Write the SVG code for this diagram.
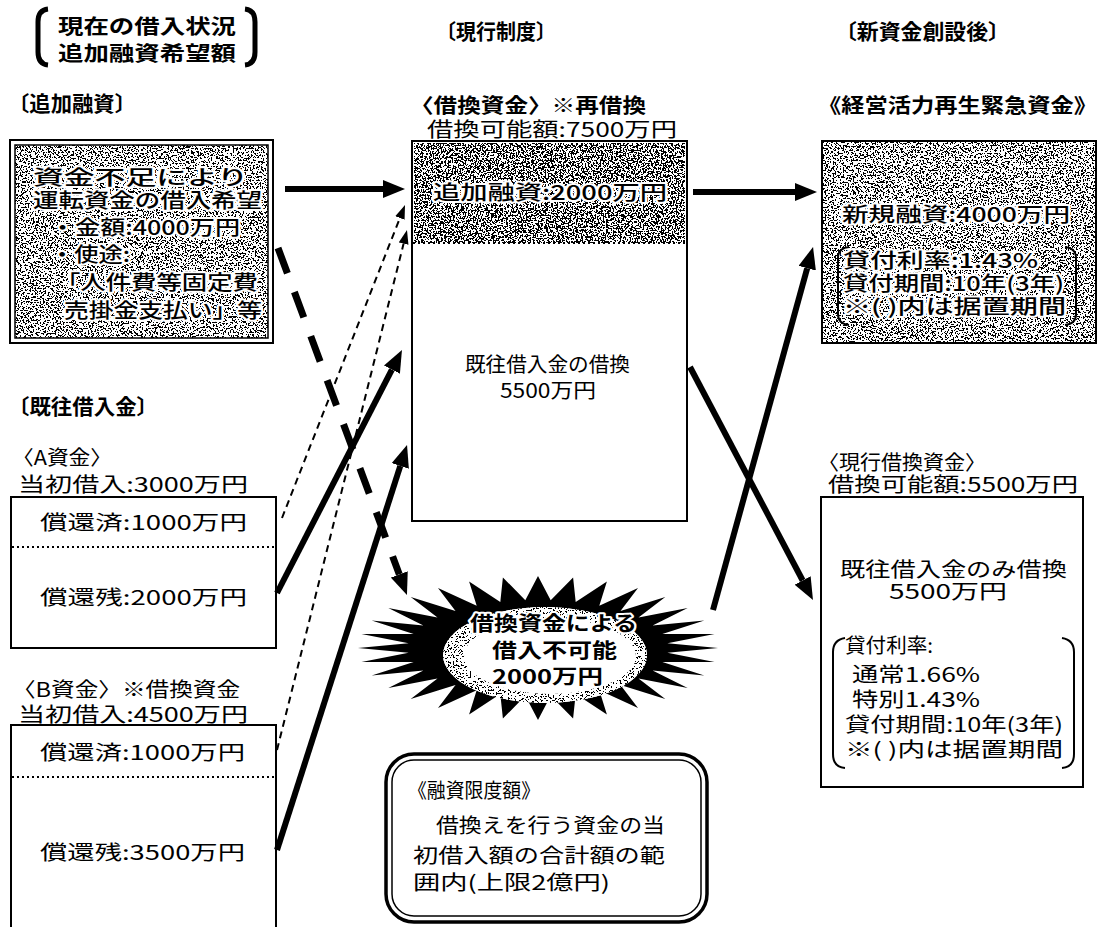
<svg xmlns="http://www.w3.org/2000/svg" width="1101" height="927" viewBox="0 0 1101 927">
<style>
text{font-family:"Noto Sans CJK JP","Noto Sans",sans-serif;fill:#000;font-size:20px}
.b{font-weight:700}
.h{font-size:21px;font-weight:700}
.halo{paint-order:stroke;stroke:#fff;stroke-width:4px;stroke-linejoin:round;font-weight:500}
.box{fill:#fff;stroke:#000;stroke-width:2}
.nb{fill:none;stroke:#000;stroke-width:2}
.dot{stroke:#000;stroke-width:2;stroke-dasharray:2 3;fill:none}
.thick{stroke:#000;stroke-width:6;fill:none}
.tdash{stroke:#000;stroke-width:7;fill:none;stroke-dasharray:27 20}
.thin{stroke:#000;stroke-width:2;fill:none;stroke-dasharray:7 5}
</style>
<defs>
<filter id="sp40" x="0" y="0" width="1" height="1" color-interpolation-filters="sRGB">
<feTurbulence type="fractalNoise" baseFrequency="0.6" numOctaves="2" seed="7" result="n"/>
<feColorMatrix in="n" type="matrix" values="1 0 0 0 0 1 0 0 0 0 1 0 0 0 0 0 0 0 0 1" result="g"/>
<feComponentTransfer in="g" result="bw">
<feFuncR type="discrete" tableValues="0 0 0 0 0 0 0 0 0 1 1 1 1 1 1 1 1 1 1 1"/>
<feFuncG type="discrete" tableValues="0 0 0 0 0 0 0 0 0 1 1 1 1 1 1 1 1 1 1 1"/>
<feFuncB type="discrete" tableValues="0 0 0 0 0 0 0 0 0 1 1 1 1 1 1 1 1 1 1 1"/>
</feComponentTransfer>
<feComposite in="bw" in2="SourceGraphic" operator="in"/>
</filter>
<filter id="sp55" x="0" y="0" width="1" height="1" color-interpolation-filters="sRGB">
<feTurbulence type="fractalNoise" baseFrequency="0.6" numOctaves="2" seed="3" result="n"/>
<feColorMatrix in="n" type="matrix" values="1 0 0 0 0 1 0 0 0 0 1 0 0 0 0 0 0 0 0 1" result="g"/>
<feComponentTransfer in="g" result="bw">
<feFuncR type="discrete" tableValues="0 0 0 0 0 0 0 0 0 0 1 1 1 1 1 1 1 1 1 1"/>
<feFuncG type="discrete" tableValues="0 0 0 0 0 0 0 0 0 0 1 1 1 1 1 1 1 1 1 1"/>
<feFuncB type="discrete" tableValues="0 0 0 0 0 0 0 0 0 0 1 1 1 1 1 1 1 1 1 1"/>
</feComponentTransfer>
<feComposite in="bw" in2="SourceGraphic" operator="in"/>
</filter>
<filter id="sp15" x="0" y="0" width="1" height="1" color-interpolation-filters="sRGB">
<feTurbulence type="fractalNoise" baseFrequency="0.6" numOctaves="2" seed="11" result="n"/>
<feColorMatrix in="n" type="matrix" values="1 0 0 0 0 1 0 0 0 0 1 0 0 0 0 0 0 0 0 1" result="g"/>
<feComponentTransfer in="g" result="bw">
<feFuncR type="discrete" tableValues="0 0 0 0 0 0 0 0 1 1 1 1 1 1 1 1 1 1 1 1"/>
<feFuncG type="discrete" tableValues="0 0 0 0 0 0 0 0 1 1 1 1 1 1 1 1 1 1 1 1"/>
<feFuncB type="discrete" tableValues="0 0 0 0 0 0 0 0 1 1 1 1 1 1 1 1 1 1 1 1"/>
</feComponentTransfer>
<feComposite in="bw" in2="SourceGraphic" operator="in"/>
</filter>
<marker id="ah" viewBox="0 0 22 18" refX="0" refY="9" markerWidth="22" markerHeight="18" markerUnits="userSpaceOnUse" orient="auto">
<path d="M0,0 L22,9 L0,18 z" fill="#000"/>
</marker>
<marker id="ahs" viewBox="0 0 14 10" refX="0" refY="5" markerWidth="14" markerHeight="10" markerUnits="userSpaceOnUse" orient="auto">
<path d="M0,0 L14,5 L0,10 z" fill="#000"/>
</marker>
</defs>
<rect width="1101" height="927" fill="#fff"/>

<g id="headings">
<path d="M48,9 Q38,10 38,22 V52 Q38,64 48,65" fill="none" stroke="#000" stroke-width="5"/>
<path d="M245,9 Q255,10 255,22 V52 Q255,64 245,65" fill="none" stroke="#000" stroke-width="5"/>
<text x="58" y="34" class="b" font-size="23" textLength="178" lengthAdjust="spacingAndGlyphs">現在の借入状況</text>
<text x="58" y="61" class="b" font-size="23" textLength="178" lengthAdjust="spacingAndGlyphs">追加融資希望額</text>
<text x="436" y="39" class="h" textLength="120" lengthAdjust="spacingAndGlyphs">〔現行制度〕</text>
<text x="835" y="39" class="h" textLength="175" lengthAdjust="spacingAndGlyphs">〔新資金創設後〕</text>
<text x="8" y="111" class="h" textLength="128" lengthAdjust="spacingAndGlyphs">〔追加融資〕</text>
<text x="8" y="414" class="h" textLength="150" lengthAdjust="spacingAndGlyphs">〔既往借入金〕</text>
</g>

<g id="add-loan">
<rect x="10" y="140" width="263" height="203" class="nb"/>
<rect x="15" y="145" width="253" height="193" fill="#000" filter="url(#sp40)"/>
<rect x="15" y="145" width="253" height="193" fill="none" stroke="#000" stroke-width="1.5"/>
<text class="halo" x="33" y="185" textLength="215" lengthAdjust="spacingAndGlyphs">資金不足により</text>
<text class="halo" x="33" y="208" textLength="229" lengthAdjust="spacingAndGlyphs">運転資金の借入希望</text>
<text class="halo" x="50" y="235" textLength="190" lengthAdjust="spacingAndGlyphs">・金額:4000万円</text>
<text class="halo" x="50" y="262" textLength="80" lengthAdjust="spacingAndGlyphs">・使途:</text>
<text class="halo" x="55" y="290" textLength="203" lengthAdjust="spacingAndGlyphs">「人件費等固定費</text>
<text class="halo" x="64" y="318" textLength="198" lengthAdjust="spacingAndGlyphs">売掛金支払い」等</text>
</g>

<g id="fund-a">
<text x="12" y="465" textLength="100" lengthAdjust="spacingAndGlyphs">〈A資金〉</text>
<text x="18" y="492" textLength="230" lengthAdjust="spacingAndGlyphs">当初借入:3000万円</text>
<rect x="11" y="497" width="265" height="151" class="box"/>
<line x1="12" y1="547" x2="275" y2="547" class="dot"/>
<text x="40" y="530" textLength="207" lengthAdjust="spacingAndGlyphs">償還済:1000万円</text>
<text x="40" y="605" textLength="207" lengthAdjust="spacingAndGlyphs">償還残:2000万円</text>
</g>

<g id="fund-b">
<text x="12" y="697" textLength="228" lengthAdjust="spacingAndGlyphs">〈B資金〉※借換資金</text>
<text x="18" y="722" textLength="230" lengthAdjust="spacingAndGlyphs">当初借入:4500万円</text>
<path d="M11,930 V725 H276 V930" class="box"/>
<line x1="12" y1="777" x2="275" y2="777" class="dot"/>
<text x="40" y="760" textLength="205" lengthAdjust="spacingAndGlyphs">償還済:1000万円</text>
<text x="40" y="860" textLength="205" lengthAdjust="spacingAndGlyphs">償還残:3500万円</text>
</g>

<g id="refinance">
<text x="410" y="113" class="b" textLength="236" lengthAdjust="spacingAndGlyphs">〈借換資金〉※再借換</text>
<text x="427" y="137" textLength="250" lengthAdjust="spacingAndGlyphs">借換可能額:7500万円</text>
<rect x="412" y="141" width="275" height="380" class="box"/>
<rect x="414" y="143" width="271" height="100" fill="#000" filter="url(#sp55)"/>
<line x1="413" y1="243" x2="686" y2="243" class="dot"/>
<text class="halo" x="433" y="200" font-size="21" textLength="234" lengthAdjust="spacingAndGlyphs">追加融資:2000万円</text>
<text x="465" y="372" textLength="165" lengthAdjust="spacingAndGlyphs">既往借入金の借換</text>
<text x="500" y="398" textLength="96" lengthAdjust="spacingAndGlyphs">5500万円</text>
</g>

<g id="new-fund">
<text x="818" y="113" class="b" font-size="22" textLength="279" lengthAdjust="spacingAndGlyphs">《経営活力再生緊急資金》</text>
<rect x="822" y="141" width="274" height="202" class="nb"/>
<rect x="823" y="142" width="272" height="200" fill="#000" filter="url(#sp40)"/>
<text class="halo" x="842" y="222" font-size="21" textLength="228" lengthAdjust="spacingAndGlyphs">新規融資:4000万円</text>
<path d="M849,247 Q838,248 838,258 V314 Q838,324 849,325" fill="none" stroke="#000" stroke-width="2"/>
<path d="M1065,247 Q1076,248 1076,258 V314 Q1076,324 1065,325" fill="none" stroke="#000" stroke-width="2"/>
<text class="halo" x="843" y="268" textLength="195" lengthAdjust="spacingAndGlyphs">貸付利率:1.43%</text>
<text class="halo" x="843" y="291" textLength="221" lengthAdjust="spacingAndGlyphs">貸付期間:10年(3年)</text>
<text class="halo" x="843" y="314" textLength="223" lengthAdjust="spacingAndGlyphs">※( )内は据置期間</text>
</g>

<g id="current-refinance">
<text x="818" y="470" textLength="168" lengthAdjust="spacingAndGlyphs">〈現行借換資金〉</text>
<text x="828" y="492" textLength="250" lengthAdjust="spacingAndGlyphs">借換可能額:5500万円</text>
<rect x="821" y="497" width="262" height="290" class="box"/>
<text x="840" y="577" textLength="227" lengthAdjust="spacingAndGlyphs">既往借入金のみ借換</text>
<text x="889" y="599" textLength="118" lengthAdjust="spacingAndGlyphs">5500万円</text>
<path d="M845,638 Q833,640 833,652 V754 Q833,767 845,768" fill="none" stroke="#000" stroke-width="2"/>
<path d="M1062,638 Q1074,640 1074,652 V754 Q1074,767 1062,768" fill="none" stroke="#000" stroke-width="2"/>
<text x="845" y="653" font-size="19" textLength="88" lengthAdjust="spacingAndGlyphs">貸付利率:</text>
<text x="852" y="682" font-size="19" textLength="128" lengthAdjust="spacingAndGlyphs">通常1.66%</text>
<text x="852" y="707" font-size="19" textLength="128" lengthAdjust="spacingAndGlyphs">特別1.43%</text>
<text x="845" y="732" font-size="19" textLength="218" lengthAdjust="spacingAndGlyphs">貸付期間:10年(3年)</text>
<text x="845" y="757" font-size="19" textLength="218" lengthAdjust="spacingAndGlyphs">※( )内は据置期間</text>
</g>

<g id="not-possible">
<polygon fill="#000" points="718,648 667.4,652.7 714.5,662 662.4,661.9 704.3,675.6 652.6,670.6 687.7,688 638.5,678.5 665.3,698.9 620.5,685.1 638,707.9 599.3,690.3 606.9,714.5 575.7,693.9 573.1,718.6 550.7,695.8 538,720 525.3,695.8 502.9,718.6 500.3,693.9 469.1,714.5 476.7,690.3 438,707.9 455.5,685.1 410.7,698.9 437.5,678.5 388.3,688 423.4,670.6 371.7,675.6 413.6,661.9 361.5,662 408.6,652.7 358,648 408.6,643.3 361.5,634 413.6,634.1 371.7,620.4 423.4,625.4 388.3,608 437.5,617.5 410.7,597.1 455.5,610.9 438,588.1 476.7,605.7 469.1,581.5 500.3,602.1 502.9,577.4 525.3,600.2 538,576 550.7,600.2 573.1,577.4 575.7,602.1 606.9,581.5 599.3,605.7 638,588.1 620.5,610.9 665.3,597.1 638.5,617.5 687.7,608 652.6,625.4 704.3,620.4 662.4,634.1 714.5,634 667.4,643.3"/>
<ellipse cx="545" cy="655" rx="102" ry="48" fill="#fff"/>
<ellipse cx="545" cy="655" rx="102" ry="48" fill="#000" filter="url(#sp15)"/>
<ellipse cx="550" cy="656" rx="86" ry="38" fill="#fff"/>
<text class="halo" x="470" y="631" font-size="22" textLength="167" lengthAdjust="spacingAndGlyphs" style="font-weight:700">借換資金による</text>
<text class="halo" x="492" y="658" font-size="22" textLength="125" lengthAdjust="spacingAndGlyphs" style="font-weight:700">借入不可能</text>
<text class="halo" x="492" y="684" font-size="22" textLength="111" lengthAdjust="spacingAndGlyphs" style="font-weight:700">2000万円</text>
</g>

<g id="limit">
<rect x="386" y="754" width="321" height="168" rx="28" fill="#fff" stroke="#000" stroke-width="3.5"/>
<rect x="392" y="760" width="309" height="156" rx="22" fill="none" stroke="#000" stroke-width="1.5"/>
<text x="408" y="798" textLength="132" lengthAdjust="spacingAndGlyphs">《融資限度額》</text>
<text x="413" y="833" textLength="252" lengthAdjust="spacingAndGlyphs">　借換えを行う資金の当</text>
<text x="413" y="863" textLength="252" lengthAdjust="spacingAndGlyphs">初借入額の合計額の範</text>
<text x="413" y="890" textLength="197" lengthAdjust="spacingAndGlyphs">囲内(上限2億円)</text>
</g>

<g id="connectors">
<line x1="285" y1="189" x2="383" y2="189" class="thick" marker-end="url(#ah)"/>
<line x1="693" y1="192" x2="795" y2="192" class="thick" marker-end="url(#ah)"/>
<line x1="278" y1="248" x2="399.3" y2="574.4" class="tdash" marker-end="url(#ah)"/>
<line x1="282" y1="518" x2="399.9" y2="218" class="thin" marker-end="url(#ahs)"/>
<line x1="277" y1="750" x2="403.6" y2="243.6" class="thin" marker-end="url(#ahs)"/>
<line x1="277" y1="593" x2="391.9" y2="369.6" class="thick" marker-end="url(#ah)"/>
<line x1="277" y1="850" x2="400.3" y2="465.9" class="thick" marker-end="url(#ah)"/>
<line x1="690" y1="367" x2="802.7" y2="580.5" class="thick" marker-end="url(#ah)"/>
<line x1="713" y1="610" x2="807.2" y2="268.2" class="thick" marker-end="url(#ah)"/>
</g>
</svg>
